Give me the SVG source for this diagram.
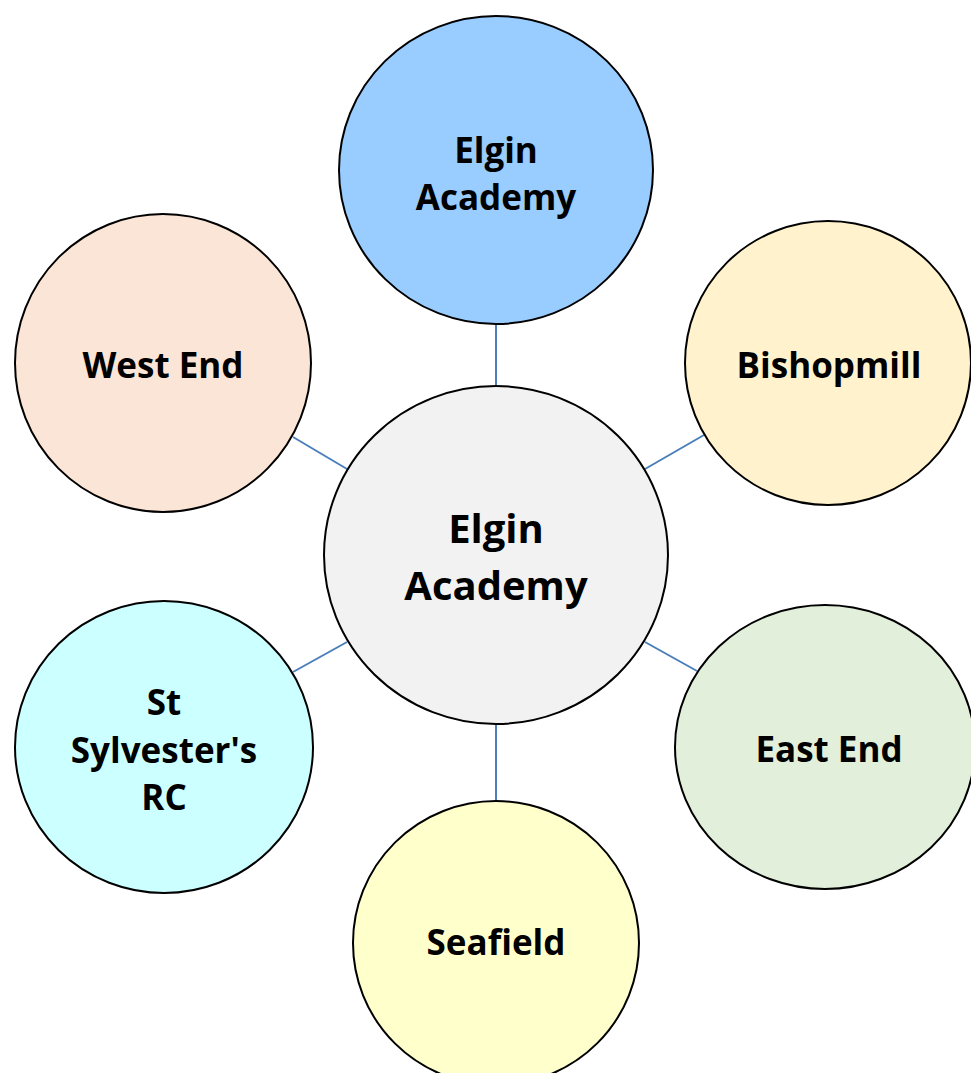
<svg xmlns="http://www.w3.org/2000/svg" width="971" height="1073" viewBox="0 0 971 1073">
<style>
.node{stroke:#000;stroke-width:2}
.lbl{font-family:"Open Sans","Liberation Sans",sans-serif;font-weight:bold;font-size:35px;fill:#000;text-anchor:middle}
.big{font-size:40px}
.conn line{stroke:#4a7ebb;stroke-width:2}
</style>
<rect width="971" height="1073" fill="#fff"/>
<g class="conn" id="connectors">
<line x1="496" y1="324" x2="496" y2="386"/>
<line x1="496" y1="723" x2="496" y2="801"/>
<line x1="293" y1="437" x2="347" y2="469"/>
<line x1="704" y1="435" x2="645" y2="469"/>
<line x1="293" y1="672" x2="347" y2="642"/>
<line x1="697" y1="671" x2="645" y2="642"/>
</g>
<g id="center">
<ellipse class="node" cx="496" cy="555" rx="172" ry="169" fill="#f2f2f2"/>
<text class="lbl big" x="496" y="543">Elgin</text>
<text class="lbl big" x="496" y="600">Academy</text>
</g>
<g id="elgin-academy">
<ellipse class="node" cx="496" cy="170" rx="157" ry="154" fill="#99ccff"/>
<text class="lbl" x="496" y="163">Elgin</text>
<text class="lbl" x="496" y="210">Academy</text>
</g>
<g id="west-end">
<ellipse class="node" cx="163" cy="363" rx="148" ry="149" fill="#fbe5d6"/>
<text class="lbl" x="163" y="378">West End</text>
</g>
<g id="bishopmill">
<ellipse class="node" cx="828" cy="363" rx="143" ry="142" fill="#fff2cc"/>
<text class="lbl" x="829" y="378">Bishopmill</text>
</g>
<g id="st-sylvesters">
<ellipse class="node" cx="164" cy="747" rx="149" ry="146" fill="#ccffff"/>
<text class="lbl" x="164" y="715">St</text>
<text class="lbl" x="164" y="763">Sylvester's</text>
<text class="lbl" x="164" y="810">RC</text>
</g>
<g id="east-end">
<ellipse class="node" cx="825" cy="747" rx="150" ry="142" fill="#e2efda"/>
<text class="lbl" x="829" y="762">East End</text>
</g>
<g id="seafield">
<ellipse class="node" cx="496" cy="943" rx="143" ry="142" fill="#ffffcc"/>
<text class="lbl" x="496" y="955">Seafield</text>
</g>
</svg>
